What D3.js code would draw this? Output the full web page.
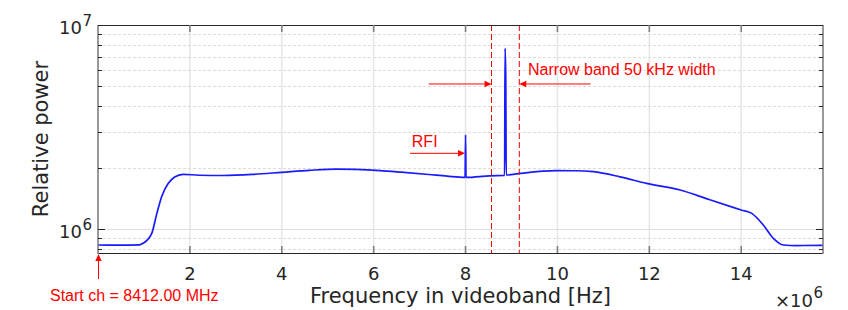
<!DOCTYPE html>
<html>
<head>
<meta charset="utf-8">
<script src="https://cdn.jsdelivr.net/npm/d3@7"></script>
<style>
  html, body { margin: 0; padding: 0; background: #fff; }
  svg { display: block; }
</style>
</head>
<body>
<svg id="chart" width="848" height="310"></svg>
<script>
// ---- Data ----
const freqMHz = [0.0, 0.5, 0.9, 0.98, 1.17, 1.28, 1.385, 1.53, 1.67, 1.85, 2.2, 2.72, 3.4, 4.0, 4.6, 5.2, 5.6, 6.14, 6.6, 7.2, 7.6, 7.99, 8.0, 8.01, 8.53, 8.85, 8.86, 8.875, 8.885, 9.19, 9.98, 10.4, 10.78, 11.36, 11.94, 12.67, 13.3, 14.0, 14.23, 14.48, 14.7, 14.92, 15.2, 15.78];
const power   = [8.35e5, 8.34e5, 8.36e5, 8.51e5, 9.53e5, 1.19e6, 1.44e6, 1.675e6, 1.80e6, 1.855e6, 1.835e6, 1.83e6, 1.855e6, 1.897e6, 1.94e6, 1.967e6, 1.96e6, 1.935e6, 1.90e6, 1.85e6, 1.815e6, 1.79e6, 2.89e6, 1.79e6, 1.823e6, 1.83e6, 7.69e6, 5.6e6, 1.84e6, 1.874e6, 1.931e6, 1.93e6, 1.91e6, 1.803e6, 1.674e6, 1.553e6, 1.395e6, 1.24e6, 1.193e6, 1.047e6, 9.0e5, 8.35e5, 8.3e5, 8.32e5];
const xTickValues = [2, 4, 6, 8, 10, 12, 14];          // x 10^6 Hz
const xTickLabels = ["2", "4", "6", "8", "10", "12", "14"];
const yMajorValues = [1e6, 1e7];
const yMajorExponents = ["6", "7"];
const yMinorValues = [8e5, 9e5, 2e6, 3e6, 4e6, 5e6, 6e6, 7e6, 8e6, 9e6];
const bandEdgesMHz = [8.565, 9.17];
const rfiMHz = 8.0;
const xDomainMHz = [0, 15.78];
const yDomain = [7.63e5, 1e7];

// ---- Layout ----
const L = 98, T = 25, R = 823, B = 253;
const svg = d3.select("#chart");
const x = d3.scaleLinear().domain(xDomainMHz.map(d => d * 1e6)).range([L, R]);
const y = d3.scaleLog().domain(yDomain).range([B, T]);
const axisFont = "'DejaVu Sans', sans-serif";
const redFont = "'Liberation Sans', Arial, sans-serif";
const red = "#f00";

// ---- Grid ----
const g = svg.append("g");
g.selectAll(".vgrid").data(xTickValues).join("line")
  .attr("x1", d => x(d * 1e6)).attr("x2", d => x(d * 1e6))
  .attr("y1", T).attr("y2", B)
  .attr("stroke", "#e6e6e6").attr("stroke-width", 1.5);
g.selectAll(".hminor").data(yMinorValues).join("line")
  .attr("x1", L).attr("x2", R)
  .attr("y1", d => Math.round(y(d)) + 0.5).attr("y2", d => Math.round(y(d)) + 0.5)
  .attr("stroke", "#dcdcdc").attr("stroke-width", 1).attr("stroke-dasharray", "3,2");
g.selectAll(".hmajor").data(yMajorValues).join("line")
  .attr("x1", L).attr("x2", R)
  .attr("y1", d => Math.round(y(d)) + 0.5).attr("y2", d => Math.round(y(d)) + 0.5)
  .attr("stroke", "#dedede").attr("stroke-width", 1);

// ---- Curve ----
const pts = freqMHz.map((f, i) => [f * 1e6, power[i]]);
const line = d3.line().x(d => x(d[0])).y(d => y(d[1])).curve(d3.curveMonotoneX);
svg.append("path").datum(pts)
  .attr("d", line).attr("fill", "none")
  .attr("stroke", "#1a1aff").attr("stroke-width", 1.7).attr("stroke-linejoin", "round");

// ---- Band edge dashed lines ----
svg.selectAll(".band").data(bandEdgesMHz).join("line")
  .attr("x1", d => x(d * 1e6)).attr("x2", d => x(d * 1e6))
  .attr("y1", T).attr("y2", B)
  .attr("stroke", "#e00").attr("stroke-width", 1).attr("stroke-dasharray", "6,3");

// ---- Axes box ----
svg.append("line").attr("x1", L).attr("x2", R).attr("y1", T + 0.5).attr("y2", T + 0.5).attr("stroke", "#262626").attr("stroke-width", 1);
svg.append("line").attr("x1", L).attr("x2", R).attr("y1", B + 0.5).attr("y2", B + 0.5).attr("stroke", "#262626").attr("stroke-width", 1);
svg.append("line").attr("x1", L).attr("x2", L).attr("y1", T).attr("y2", B + 1).attr("stroke", "#808080").attr("stroke-width", 1.6);
svg.append("line").attr("x1", R).attr("x2", R).attr("y1", T).attr("y2", B + 1).attr("stroke", "#808080").attr("stroke-width", 1.6);

// x ticks (inward, bottom and top)
const xt = svg.append("g");
xt.selectAll(".xb").data(xTickValues).join("line")
  .attr("x1", d => x(d * 1e6)).attr("x2", d => x(d * 1e6))
  .attr("y1", B).attr("y2", B - 7).attr("stroke", "#808080").attr("stroke-width", 1.6);
xt.selectAll(".xtp").data(xTickValues).join("line")
  .attr("x1", d => x(d * 1e6)).attr("x2", d => x(d * 1e6))
  .attr("y1", T).attr("y2", T + 7).attr("stroke", "#808080").attr("stroke-width", 1.6);
xt.selectAll(".xl").data(xTickValues).join("text")
  .attr("x", d => x(d * 1e6)).attr("y", 280)
  .attr("text-anchor", "middle").attr("font-family", axisFont).attr("font-size", 18)
  .attr("fill", "#262626").text((d, i) => xTickLabels[i]);

// y ticks (inward, left and right)
const yt = svg.append("g");
[[L, 1], [R, -1]].forEach(([x0, dir]) => {
  yt.selectAll(null).data(yMajorValues).join("line")
    .attr("x1", x0).attr("x2", x0 + dir * 7)
    .attr("y1", d => Math.round(y(d)) + 0.5).attr("y2", d => Math.round(y(d)) + 0.5)
    .attr("stroke", "#262626").attr("stroke-width", 1);
  yt.selectAll(null).data(yMinorValues).join("line")
    .attr("x1", x0).attr("x2", x0 + dir * 4)
    .attr("y1", d => Math.round(y(d)) + 0.5).attr("y2", d => Math.round(y(d)) + 0.5)
    .attr("stroke", "#262626").attr("stroke-width", 1);
});
yt.selectAll(".ybase").data(yMajorValues).join("text")
  .attr("x", L - 16).attr("y", d => y(d) + 9)
  .attr("text-anchor", "end").attr("font-family", axisFont).attr("font-size", 18)
  .attr("fill", "#262626").text("10");
yt.selectAll(".yexp").data(yMajorValues).join("text")
  .attr("x", L - 15.5).attr("y", d => y(d) + 0.5)
  .attr("text-anchor", "start").attr("font-family", axisFont).attr("font-size", 15)
  .attr("fill", "#262626").text((d, i) => yMajorExponents[i]);

// Axis labels
svg.append("text").attr("x", (L + R) / 2).attr("y", 303)
  .attr("text-anchor", "middle").attr("font-family", axisFont).attr("font-size", 21)
  .attr("fill", "#262626").text("Frequency in videoband [Hz]");
svg.append("text").attr("transform", `translate(48,${(T + B) / 2}) rotate(-90)`)
  .attr("text-anchor", "middle").attr("font-family", axisFont).attr("font-size", 21)
  .attr("fill", "#262626").text("Relative power");
// x10^6 exponent
svg.append("text").attr("x", 813).attr("y", 307)
  .attr("text-anchor", "end").attr("font-family", axisFont).attr("font-size", 18)
  .attr("fill", "#262626").text("\u00d710");
svg.append("text").attr("x", 813.5).attr("y", 298)
  .attr("text-anchor", "start").attr("font-family", axisFont).attr("font-size", 15)
  .attr("fill", "#262626").text("6");

// ---- Annotations (red) ----
function arrow(x1, y1, x2, y2) {
  const a = Math.atan2(y2 - y1, x2 - x1), len = 7, hw = 3.2;
  const bx = x2 - len * Math.cos(a), by = y2 - len * Math.sin(a);
  svg.append("line").attr("x1", x1).attr("y1", y1).attr("x2", bx).attr("y2", by)
    .attr("stroke", red).attr("stroke-width", 1);
  const p = [[x2, y2],
    [bx + hw * Math.sin(a), by - hw * Math.cos(a)],
    [bx - hw * Math.sin(a), by + hw * Math.cos(a)]];
  svg.append("polygon").attr("points", p.map(q => q.join(",")).join(" ")).attr("fill", red);
}
// Start channel arrow
arrow(x(0) + 0.5, B + 26, x(0) + 0.5, B + 1);
svg.append("text").attr("x", 50).attr("y", 301).attr("font-family", redFont).attr("font-size", 16)
  .attr("fill", red).text("Start ch = 8412.00 MHz");
// RFI
arrow(x(6.79e6), y(2.35e6), x(rfiMHz * 1e6) - 0.5, y(2.35e6));
svg.append("text").attr("x", x(6.83e6)).attr("y", y(2.52e6)).attr("font-family", redFont).attr("font-size", 16)
  .attr("fill", red).text("RFI");
// Narrow band arrows
arrow(x(7.2e6), y(5.14e6), x(bandEdgesMHz[0] * 1e6), y(5.14e6));
arrow(x(10.72e6), y(5.14e6), x(bandEdgesMHz[1] * 1e6), y(5.14e6));
svg.append("text").attr("x", x(9.36e6)).attr("y", y(5.69e6)).attr("font-family", redFont).attr("font-size", 16)
  .attr("fill", red).text("Narrow band 50 kHz width");
</script>
</body>
</html>
